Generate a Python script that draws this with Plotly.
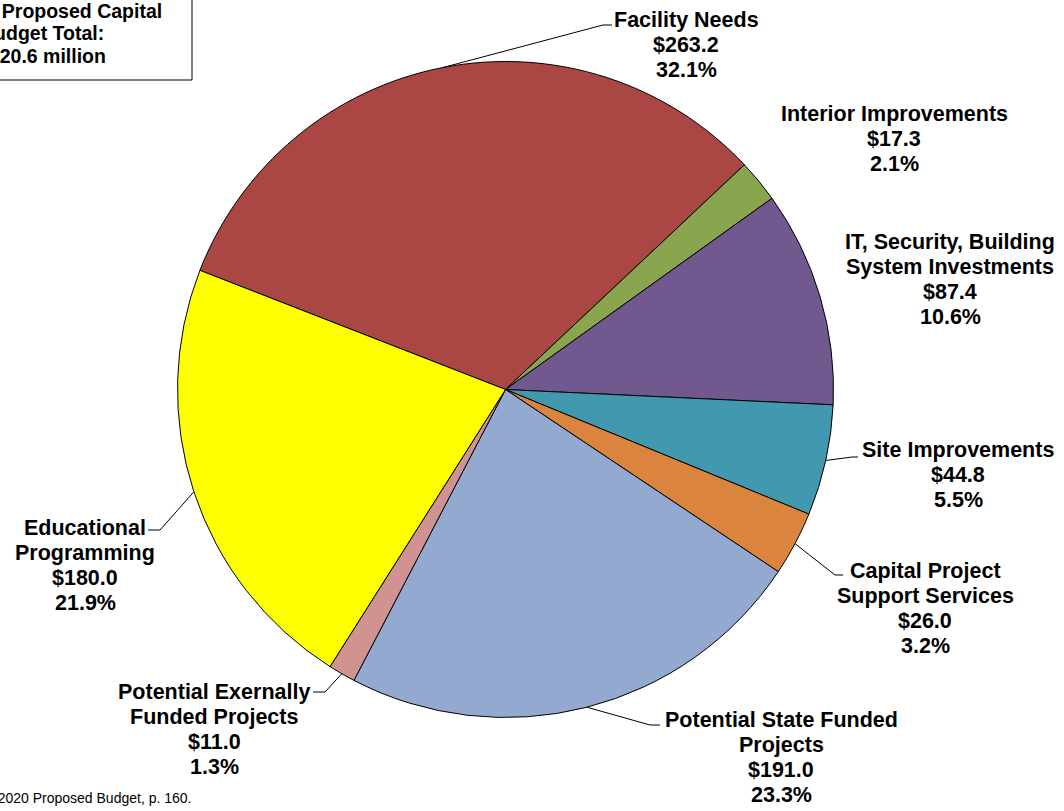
"""
Capital budget pie chart (FY 2020 proposed capital budget by category).
"""

import math
import plotly.graph_objects as go

# ============================================================================
# DATA
# ============================================================================

categories = [
    "Facility Needs",
    "Interior Improvements",
    "IT, Security, Building<br>System Investments",
    "Site Improvements",
    "Capital Project<br>Support Services",
    "Potential State Funded<br>Projects",
    "Potential Exernally<br>Funded Projects",
    "Educational<br>Programming",
]
amounts = [263.2, 17.3, 87.4, 44.8, 26.0, 191.0, 11.0, 180.0]
percents = ["32.1%", "2.1%", "10.6%", "5.5%", "3.2%", "23.3%", "1.3%", "21.9%"]
colors = ["#AA4643", "#89A54E", "#71588F", "#4198AF",
          "#DB843D", "#93A9CF", "#D19392", "#FFFF00"]

total_lines = ["FY 2020 Proposed Capital", "Budget Total:", "$820.6 million"]
source_text = "Source: FY 2020 Proposed Budget, p. 160."

# ============================================================================
# LAYOUT HELPERS
# ============================================================================

W, H = 1064, 811
START_ANGLE = -68.7  # degrees clockwise from 12 o'clock
DOMAIN_X = [177.5 / W, 833.5 / W]
DOMAIN_Y = [1 - 717.5 / H, 1 - 61.5 / H]

FONT = "Arial, Liberation Sans, sans-serif"
LABEL_SIZE = 21.5
LINE_GAP = 25


def px(x):
    return x / W


def py(y):
    return 1 - y / H


# first-line centre of each label block (pixels) and leader hooks (elbow, end)
label_pos = [(686, 20), (894, 114), (950, 242), (958, 450),
             (925, 571), (781, 720), (214, 692), (85, 528)]
hooks = [((603, 25), (612, 25)), None, None, ((852, 457), (858, 457)),
         ((835, 575), (843, 575)), ((650, 725), (660, 725)),
         ((325, 692), (313, 692)), ((160, 530), (148, 530))]

# pie geometry (pixels) derived from the domain
cx = (DOMAIN_X[0] + DOMAIN_X[1]) / 2 * W
cy = (1 - (DOMAIN_Y[0] + DOMAIN_Y[1]) / 2) * H
radius = min((DOMAIN_X[1] - DOMAIN_X[0]) * W, (DOMAIN_Y[1] - DOMAIN_Y[0]) * H) / 2

# ============================================================================
# FIGURE
# ============================================================================

fig = go.Figure(data=[go.Pie(
    labels=categories,
    values=amounts,
    marker=dict(colors=colors, line=dict(color="black", width=1)),
    sort=False,
    direction="clockwise",
    rotation=START_ANGLE,
    textinfo="none",
    hoverinfo="label+value",
    domain=dict(x=DOMAIN_X, y=DOMAIN_Y),
    showlegend=False,
)])

annotations = []
shapes = []


def add_lines(lines, x, y0, size, gap, bold=True):
    for i, line in enumerate(lines):
        annotations.append(dict(
            x=px(x), y=py(y0 + i * gap), xref="paper", yref="paper",
            text=f"<b>{line}</b>" if bold else line,
            showarrow=False, xanchor="center", yanchor="middle",
            font=dict(family=FONT, size=size, color="black"),
        ))


total = sum(amounts)
cum = 0.0
for cat, amt, pct, pos, hook in zip(categories, amounts, percents, label_pos, hooks):
    mid = math.radians(START_ANGLE + 360 * (cum + amt / 2) / total)
    cum += amt
    lines = cat.split("<br>") + [f"${amt:.1f}", pct]
    add_lines(lines, pos[0], pos[1], LABEL_SIZE, LINE_GAP)
    if hook:
        sx = cx + radius * math.sin(mid)
        sy = cy - radius * math.cos(mid)
        (ex, ey), (hx, hy) = hook
        shapes.append(dict(
            type="path", xref="paper", yref="paper",
            path=f"M {px(sx)},{py(sy)} L {px(ex)},{py(ey)} L {px(hx)},{py(hy)}",
            line=dict(color="black", width=1),
        ))

# total box (partly cut off at the left edge, as in the source)
shapes.append(dict(
    type="rect", xref="paper", yref="paper",
    x0=px(-110), x1=px(192), y0=py(80), y1=py(-5),
    line=dict(color="black", width=1), fillcolor="white", layer="below",
))
add_lines(total_lines, 42, 11, 19.5, 22.5)

annotations.append(dict(
    x=px(193), y=py(798), xref="paper", yref="paper",
    text=source_text, showarrow=False, xanchor="right", yanchor="middle",
    font=dict(family=FONT, size=14, color="black"),
))

fig.update_layout(
    width=W, height=H,
    margin=dict(l=0, r=0, t=0, b=0),
    paper_bgcolor="white",
    plot_bgcolor="white",
    annotations=annotations,
    shapes=shapes,
)

fig.write_html(
    "out.html",
    config={"displayModeBar": False},
    post_script="document.body.style.margin = '0px';",
)
